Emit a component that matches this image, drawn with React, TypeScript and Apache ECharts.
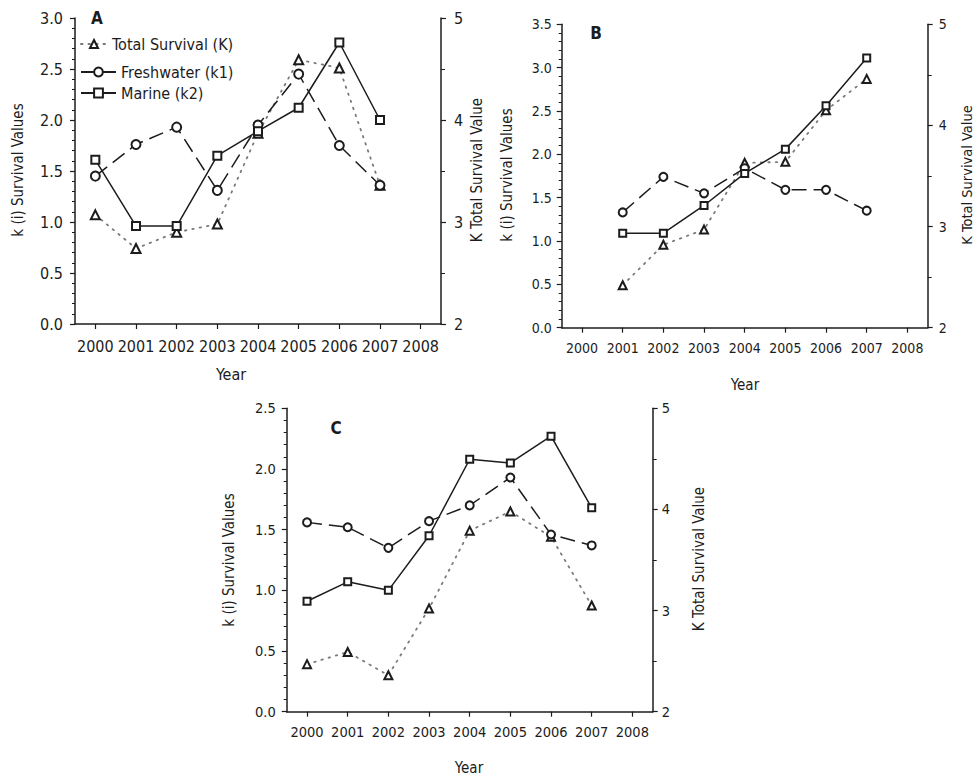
import React, { useEffect, useRef } from "react";
import * as echarts from "echarts";

const years = ["2000", "2001", "2002", "2003", "2004", "2005", "2006", "2007", "2008"];

// Panel A
const aFresh = [1.45, 1.76, 1.93, 1.31, 1.95, 2.45, 1.75, 1.36];
const aMarine = [1.61, 0.96, 0.96, 1.65, 1.89, 2.12, 2.76, 2.0];
const aTotal = [3.07, 2.74, 2.9, 2.98, 3.87, 4.59, 4.51, 3.36];

// Panel B
const bFresh = [null, 1.33, 1.74, 1.55, 1.84, 1.59, 1.59, 1.35];
const bMarine = [null, 1.09, 1.09, 1.41, 1.78, 2.06, 2.56, 3.11];
const bTotal = [null, 2.42, 2.82, 2.97, 3.63, 3.64, 4.15, 4.46];

// Panel C
const cFresh = [1.56, 1.52, 1.35, 1.57, 1.7, 1.93, 1.46, 1.37];
const cMarine = [0.91, 1.07, 1.0, 1.45, 2.08, 2.05, 2.27, 1.68];
const cTotal = [2.47, 2.59, 2.36, 3.02, 3.79, 3.98, 3.73, 3.05];

const leftMax = [3.0, 3.5, 2.5];
const rightMin = 2;
const rightMax = 5;

const FONT = "'DejaVu Sans Condensed', 'Noto Sans', sans-serif";
const INK = "#1c1c1c";

const NAME_T = "Total Survival (K)";
const NAME_F = "Freshwater (k1)";
const NAME_M = "Marine (k2)";

const grids = [
  { left: 75, top: 18, width: 366, height: 306 },
  { left: 561.7, top: 24.3, width: 366, height: 303.4 },
  { left: 286.7, top: 408.3, width: 366, height: 303.4 },
];
const tickFont = [16, 14, 14.5];
const xMargin = [14, 13, 13];
const yMargin = [12, 10, 11];
const rMargin = [13, 11, 9];

function buildOption() {
  const xAxis: any[] = [];
  const yAxis: any[] = [];
  const series: any[] = [];
  const data = [
    [aTotal, aFresh, aMarine],
    [bTotal, bFresh, bMarine],
    [cTotal, cFresh, cMarine],
  ];
  for (let i = 0; i < 3; i++) {
    const fs = tickFont[i];
    const line = { show: true, lineStyle: { color: INK, width: 1.5 } };
    xAxis.push({
      type: "category",
      gridIndex: i,
      data: years,
      boundaryGap: true,
      axisLine: line,
      axisTick: { show: true, alignWithLabel: true, length: 5, lineStyle: { color: INK, width: 1.2 } },
      axisLabel: { color: INK, fontSize: fs, fontFamily: FONT, margin: xMargin[i], interval: 0 },
      splitLine: { show: false },
    });
    yAxis.push({
      type: "value",
      gridIndex: i,
      position: "left",
      min: 0,
      max: leftMax[i],
      interval: 0.5,
      axisLine: line,
      axisTick: { show: true, length: 5, lineStyle: { color: INK, width: 1.2 } },
      minorTick: { show: true, splitNumber: 5, length: 3, lineStyle: { color: INK, width: 1 } },
      axisLabel: {
        color: INK,
        fontSize: fs,
        fontFamily: FONT,
        margin: yMargin[i],
        formatter: (v: number) => v.toFixed(1),
      },
      splitLine: { show: false },
    });
    yAxis.push({
      type: "value",
      gridIndex: i,
      position: "right",
      min: rightMin,
      max: rightMax,
      interval: 1,
      axisLine: line,
      axisTick: { show: true, length: 5, lineStyle: { color: INK, width: 1.2 } },
      minorTick: { show: true, splitNumber: 2, length: 4, lineStyle: { color: INK, width: 1 } },
      axisLabel: { color: INK, fontSize: fs, fontFamily: FONT, margin: rMargin[i] },
      splitLine: { show: false },
    });
    const sym = i === 0 ? 9 : 8;
    const [t, f, m] = data[i];
    series.push({
      name: NAME_T,
      type: "line",
      xAxisIndex: i,
      yAxisIndex: i * 2 + 1,
      data: t,
      symbol: "emptyTriangle",
      symbolSize: sym,
      itemStyle: { color: INK, borderWidth: 1.3 },
      lineStyle: { color: "#7a7a7a", width: 1.8, type: [1.5, 6], cap: "round" },
      z: 2,
    });
    series.push({
      name: NAME_F,
      type: "line",
      xAxisIndex: i,
      yAxisIndex: i * 2,
      data: f,
      symbol: "emptyCircle",
      symbolSize: sym,
      itemStyle: { color: INK, borderWidth: 1.3 },
      lineStyle: { color: INK, width: 1.5, type: [15, 7] },
      z: 3,
    });
    series.push({
      name: NAME_M,
      type: "line",
      xAxisIndex: i,
      yAxisIndex: i * 2,
      data: m,
      symbol: "emptyRect",
      symbolSize: sym - 1,
      itemStyle: { color: INK, borderWidth: 1.3 },
      lineStyle: { color: INK, width: 1.5, type: "solid" },
      z: 4,
    });
  }

  const txt = (text: string, x: number, y: number, size: number, opts: any = {}) => ({
    type: "text",
    x,
    y,
    rotation: opts.rotate ? Math.PI / 2 : 0,
    silent: true,
    style: {
      text,
      fill: INK,
      font: `${opts.bold ? "bold " : ""}${size}px ${FONT}`,
      align: "center",
      verticalAlign: "middle",
      textAlign: "center",
      textVerticalAlign: "middle",
    },
  });

  const graphic = [
    txt("A", 97, 18, 17, { bold: true }),
    txt("B", 596, 33, 17, { bold: true }),
    txt("C", 336, 428, 17, { bold: true }),
    txt("k (i) Survival Values", 18, 170, 15, { rotate: true }),
    txt("K Total Survival Value", 477, 170, 15, { rotate: true }),
    txt("k (i) Survival Values", 507, 175, 15, { rotate: true }),
    txt("K Total Survival Value", 967, 175, 14.5, { rotate: true }),
    txt("k (i) Survival Values", 229, 560, 15, { rotate: true }),
    txt("K Total Survival Value", 699, 559, 15, { rotate: true }),
    txt("Year", 231, 374, 16),
    txt("Year", 745, 385, 15),
    txt("Year", 469, 768, 15),
  ];

  const legendText = { color: INK, fontSize: 16, fontFamily: FONT };
  const legend = [
    {
      data: [NAME_T],
      left: 80,
      top: 36,
      itemWidth: 26,
      itemHeight: 10,
      itemGap: 4,
      selectedMode: false,
      textStyle: legendText,
      padding: 0,
    },
    {
      data: [NAME_F, NAME_M],
      orient: "vertical",
      left: 80,
      top: 64,
      itemWidth: 35,
      itemHeight: 11,
      itemGap: 5,
      selectedMode: false,
      textStyle: legendText,
      padding: 0,
      lineStyle: { type: "solid" },
    },
  ];

  return {
    animation: false,
    backgroundColor: "#ffffff",
    textStyle: { fontFamily: FONT },
    grid: grids.map((g) => ({ ...g, containLabel: false })),
    xAxis,
    yAxis,
    series,
    legend,
    graphic,
  };
}

export default function App() {
  const ref = useRef<HTMLDivElement>(null);
  useEffect(() => {
    if (!ref.current) return;
    const chart = echarts.init(ref.current, undefined, { renderer: "svg" });
    chart.setOption(buildOption() as any);
    return () => chart.dispose();
  }, []);
  return (
    <div
      ref={ref}
      style={{ position: "absolute", left: 0, top: 0, width: 977, height: 778, background: "#fff" }}
    />
  );
}
